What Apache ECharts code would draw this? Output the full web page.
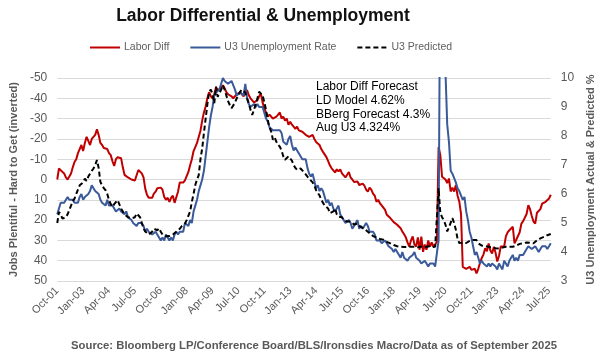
<!DOCTYPE html>
<html><head><meta charset="utf-8">
<script src="https://cdn.jsdelivr.net/npm/echarts@6/dist/echarts.min.js"></script>
<style>html,body{margin:0;padding:0;background:#fff}#c{width:604px;height:355px}</style>
</head><body><div id="c"></div>
<script>
// Monthly, Oct-01 .. Aug-25
const monthNames = ['Jan','Feb','Mar','Apr','May','Jun','Jul','Aug','Sep','Oct','Nov','Dec'];
const startYear = 2001, startMonth = 9, nMonths = 287;
const categories = [];
for (let k = 0; k < nMonths; k++) {
  const m = (startMonth + k) % 12, y = startYear + Math.floor((startMonth + k) / 12);
  categories.push(monthNames[m] + '-' + String(y % 100).padStart(2, '0'));
}
const leftTicks = [-50,-40,-30,-20,-10,0,10,20,30,40,50];
const rightTicks = [3,4,5,6,7,8,9,10];

// Labor Differential (Jobs Plentiful - Hard to Get), left axis inverted
const laborDiff = [
  0, -5.5, -4.5,
  -4.5, -3, -1, 0, 0, -3, -6, -8.6, -10, -13, -15, -17,
  -14, -18, -21, -19, -17, -20, -21, -22, -24.7, -22, -18, -17,
  -15.5, -16, -15, -13, -12, -9, -6.7, -10, -11, -11, -10.5, -6,
  -2.3, -1.5, -1, -0.5, 0, 0, 0.5, 0, -4.7, -4, -3, -1,
  4.5, 7.5, 9, 8.4, 9, 7, 6, 4.3, 3.6, 4, 5, 8.6,
  10, 9, 11, 9, 8, 11.5, 10.9, 6, 1.5, 1, 1.5, 0.4,
  0.5, -3.7, -7, -10, -14, -16, -18, -18.5, -24, -29, -33, -36,
  -40, -43, -41, -40, -42, -45.5, -44, -44, -45, -46.4, -45, -43,
  -42, -41.5, -41, -40, -41, -42, -42, -43, -42, -41, -43, -44,
  -41.5, -40, -39, -38, -38, -39, -41, -42.3, -38, -35, -33, -31,
  -32, -31, -30, -30.5, -31, -32, -33, -30, -31, -29, -30, -27,
  -28.5, -27, -26, -25, -26, -24.2, -24, -23.5, -23, -22, -21.5, -21,
  -21, -22, -20, -18.5, -19, -17, -15, -13.6, -13, -11, -9, -7,
  -5.5, -4.6, -3.5, -5, -4, -5, -3, -3, -1, -0.5, -3.7, -1,
  0, 1.2, 0.5, 1, 2.7, 3.6, 2, 3, 5, 6, 4, 5,
  7, 8, 11, 10, 11.7, 12.7, 13, 15, 17.4, 17.6, 19, 20,
  21, 21.7, 22.3, 23, 24, 25.7, 27, 28.5, 31, 33, 30, 28,
  32, 33, 28.5, 34.6, 28.1, 35.6, 32, 34.6, 30, 33, 31, 33,
  32, 30.7, -16, -12, -1.4, -2, 0, 1.8, -0.5, 5.9, 4, 5.9,
  2.7, 8, 10.9, 17, 43, 43.6, 44, 44, 43, 44.5, 45, 44,
  46.3, 44, 41, 38.7, 37, 33.9, 35.4, 31.5, 35, 36.4, 33.2, 36,
  40.4, 37.7, 33, 32.6, 33, 28, 26, 25, 24.8, 23.3, 31.5, 29.7,
  29.3, 26, 21.7, 20.5, 19.7, 17, 12.6, 14.6, 18, 20.7, 21.7, 16.4,
  15.5, 14.6, 11.9, 12.5, 11, 10.5, 9.4, 7.5
];

// U3 Unemployment Rate (actual), right axis
const u3Rate = [
  5.3, 5.5, 5.7,
  5.7, 5.7, 5.7, 5.9, 5.8, 5.8, 5.8, 5.7, 5.7, 5.7, 5.9, 6.0,
  5.8, 5.9, 5.9, 6.0, 6.1, 6.3, 6.2, 6.1, 6.1, 6.0, 5.8, 5.7,
  5.7, 5.6, 5.8, 5.6, 5.6, 5.6, 5.5, 5.4, 5.4, 5.5, 5.4, 5.4,
  5.3, 5.4, 5.2, 5.2, 5.1, 5.0, 5.0, 4.9, 5.0, 5.0, 5.0, 4.9,
  4.7, 4.8, 4.7, 4.7, 4.6, 4.6, 4.7, 4.7, 4.5, 4.4, 4.5, 4.4,
  4.6, 4.5, 4.4, 4.5, 4.4, 4.6, 4.7, 4.6, 4.7, 4.7, 4.7, 5.0,
  5.0, 4.9, 5.1, 5.0, 5.4, 5.6, 5.8, 6.1, 6.1, 6.5, 6.8, 7.3,
  7.8, 8.3, 8.7, 9.0, 9.4, 9.5, 9.5, 9.6, 9.8, 10.0, 9.9, 9.9,
  9.8, 9.8, 9.9, 9.9, 9.6, 9.4, 9.4, 9.5, 9.5, 9.4, 9.8, 9.3,
  9.1, 9.0, 9.0, 9.1, 9.0, 9.1, 9.0, 9.0, 9.0, 8.8, 8.6, 8.5,
  8.3, 8.3, 8.2, 8.2, 8.2, 8.2, 8.2, 8.1, 7.8, 7.8, 7.7, 7.9,
  8.0, 7.7, 7.5, 7.6, 7.5, 7.5, 7.3, 7.2, 7.2, 7.2, 6.9, 6.7,
  6.6, 6.7, 6.7, 6.2, 6.3, 6.1, 6.2, 6.1, 5.9, 5.7, 5.8, 5.6,
  5.7, 5.5, 5.4, 5.4, 5.6, 5.3, 5.2, 5.1, 5.0, 5.0, 5.1, 5.0,
  4.8, 4.9, 5.0, 5.1, 4.8, 4.9, 4.8, 4.9, 5.0, 4.9, 4.7, 4.7,
  4.7, 4.6, 4.4, 4.4, 4.4, 4.3, 4.3, 4.4, 4.3, 4.2, 4.2, 4.1,
  4.0, 4.1, 4.0, 4.0, 3.8, 4.0, 3.8, 3.8, 3.7, 3.8, 3.8, 3.9,
  4.0, 3.8, 3.8, 3.7, 3.6, 3.6, 3.7, 3.6, 3.5, 3.6, 3.6, 3.6,
  3.5, 3.5, 4.4, 14.8, 13.2, 11.0, 10.2, 8.4, 7.8, 6.8, 6.7, 6.7,
  6.4, 6.2, 6.1, 6.1, 5.8, 5.9, 5.4, 5.1, 4.7, 4.5, 4.2, 3.9,
  4.0, 3.8, 3.6, 3.7, 3.6, 3.6, 3.5, 3.6, 3.5, 3.6, 3.6, 3.5,
  3.4, 3.6, 3.5, 3.4, 3.7, 3.6, 3.5, 3.7, 3.8, 3.9, 3.7, 3.8,
  3.7, 3.9, 3.9, 3.9, 4.0, 4.1, 4.2, 4.2, 4.1, 4.1, 4.2, 4.1,
  4.0, 4.1, 4.2, 4.2, 4.2, 4.1, 4.2, 4.3
];

// U3 Predicted (model), right axis
const u3Predicted = [
  5.0, 5.38, 5.3,
  5.15, 5.16, 5.2, 5.3, 5.45, 5.6, 5.75, 5.84, 6.0, 6.15, 6.3, 6.25,
  6.4, 6.53, 6.45, 6.6, 6.7, 6.8, 6.88, 7.0, 7.17, 6.9, 6.42, 6.3,
  6.2, 6.13, 6.0, 5.79, 5.65, 5.56, 5.65, 5.7, 5.79, 5.79, 5.5, 5.4,
  5.3, 5.25, 5.2, 5.16, 5.16, 5.12, 5.2, 5.33, 5.34, 5.2, 5.0, 4.81,
  4.71, 4.65, 4.6, 4.6, 4.7, 4.8, 4.81, 4.75, 4.82, 4.7, 4.6, 4.58,
  4.54, 4.6, 4.55, 4.53, 4.6, 4.65, 4.7, 4.72, 4.8, 4.88, 4.9, 4.98,
  5.1, 5.16, 5.4, 5.73, 6.0, 6.31, 6.5, 6.65, 7.2, 7.57, 8.1, 8.6,
  9.1, 9.52, 9.6, 9.45, 9.13, 9.7, 9.35, 9.4, 9.6, 9.75, 9.6, 9.4,
  9.2, 9.07, 8.96, 9.0, 9.15, 9.3, 9.4, 9.53, 9.6, 9.65, 9.5, 9.3,
  9.13, 8.9, 8.73, 8.9, 9.1, 9.3, 9.53, 9.58, 9.4, 9.17, 8.9, 8.54,
  8.3, 8.15, 7.87, 7.95, 7.8, 7.7, 7.63, 7.5, 7.3, 7.18, 7.2, 7.3,
  7.25, 7.15, 7.0, 6.9, 6.83, 6.85, 6.88, 6.9, 6.75, 6.7, 6.6, 6.53,
  6.5, 6.4, 6.3, 6.13, 6.1, 5.95, 5.8, 5.74, 5.6, 5.62, 5.5, 5.34,
  5.33, 5.4, 5.5, 5.3, 5.22, 5.16, 5.2, 5.11, 5.1, 5.05, 5.0, 5.05,
  5.0, 4.95, 4.93, 4.98, 4.9, 4.85, 4.83, 4.8, 4.75, 4.7, 4.65, 4.6,
  4.55, 4.54, 4.5, 4.47, 4.45, 4.44, 4.42, 4.4, 4.35, 4.33, 4.3, 4.26,
  4.24, 4.22, 4.2, 4.19, 4.18, 4.18, 4.17, 4.19, 4.18, 4.16, 4.18, 4.2,
  4.18, 4.17, 4.16, 4.18, 4.19, 4.17, 4.16, 4.18, 4.2, 4.18, 4.17, 4.18,
  4.18, 4.2, 6.2, 5.35, 5.2, 5.1, 4.94, 4.71, 4.85, 4.88, 5.17, 5.0,
  4.77, 4.45, 4.31, 4.33, 4.32, 4.31, 4.31, 4.35, 4.38, 4.42, 4.41, 4.42,
  4.41, 4.3, 4.25, 4.22, 4.19, 4.2, 4.18, 4.18, 4.17, 4.16, 4.14, 4.13,
  4.12, 4.12, 4.13, 4.15, 4.19, 4.18, 4.17, 4.18, 4.17, 4.18, 4.2, 4.22,
  4.25, 4.28, 4.25, 4.3, 4.35, 4.33, 4.3, 4.32, 4.29, 4.3, 4.36, 4.4,
  4.42, 4.47, 4.48, 4.52, 4.55, 4.58, 4.6, 4.62
];

const titleText = 'Labor Differential & Unemployment';
const noteLines = ['Labor Diff Forecast', 'LD Model 4.62%', 'BBerg Forecast 4.3%', 'Aug U3 4.324%'];
const sourceText = 'Source: Bloomberg LP/Conference Board/BLS/Ironsdies Macro/Data as of September 2025';

const FONT = '"Liberation Sans", Arial, sans-serif';
const GREY = '#595959';
const chart = echarts.init(document.getElementById('c'), null, {renderer: 'canvas'});
chart.setOption({
  animation: false,
  backgroundColor: '#fff',
  textStyle: {fontFamily: FONT},
  grid: {left: 57, right: 52, top: 78, bottom: 74, containLabel: false},
  legend: {
    left: 89, top: 42, padding: 0, itemWidth: 30, itemHeight: 10, itemGap: 20,
    itemStyle: {opacity: 0},
    textStyle: {fontSize: 10.5, color: '#606060', fontFamily: FONT, padding: [0, 0, 0, -1]},
    data: ['Labor Diff', 'U3 Unemployment Rate', 'U3 Predicted']
  },
  xAxis: {
    type: 'category', data: categories, boundaryGap: false,
    axisLine: {show: false}, axisTick: {show: false},
    axisLabel: {interval: 14, rotate: 45, fontSize: 11, color: GREY, margin: 8, fontFamily: FONT},
    splitLine: {show: false}
  },
  yAxis: [{
    type: 'value', min: leftTicks[0], max: leftTicks[leftTicks.length-1], interval: 10, inverse: true, position: 'left',
    axisLine: {show: false}, axisTick: {show: false},
    axisLabel: {fontSize: 12, color: GREY, margin: 10, fontFamily: FONT},
    splitLine: {lineStyle: {color: '#d9d9d9', width: 1}},
    name: 'Jobs Plentiful - Hard to Get (inverted)', nameLocation: 'middle', nameGap: 38, nameRotate: 90,
    nameTextStyle: {fontSize: 11, fontWeight: 'bold', color: GREY, fontFamily: FONT}
  }, {
    type: 'value', min: rightTicks[0], max: rightTicks[rightTicks.length-1], interval: 1, position: 'right',
    axisLine: {show: false}, axisTick: {show: false},
    axisLabel: {fontSize: 12, color: GREY, margin: 10, fontFamily: FONT},
    splitLine: {show: false},
    name: 'U3 Unemployment Actual & Predicted %', nameLocation: 'middle', nameGap: 32, nameRotate: 90,
    nameTextStyle: {fontSize: 11, fontWeight: 'bold', color: GREY, fontFamily: FONT}
  }],
  series: [{
    name: 'Labor Diff', type: 'line', yAxisIndex: 0, data: laborDiff,
    symbol: 'none', lineStyle: {color: '#C00000', width: 2}, itemStyle: {color: '#C00000'}
  }, {
    name: 'U3 Unemployment Rate', type: 'line', yAxisIndex: 1, data: u3Rate,
    symbol: 'none', lineStyle: {color: '#3A5A9A', width: 2}, itemStyle: {color: '#3A5A9A'}
  }, {
    name: 'U3 Predicted', type: 'line', yAxisIndex: 1, data: u3Predicted,
    symbol: 'none', lineStyle: {color: '#000', width: 2, type: [5, 3]}, itemStyle: {color: '#000'}
  }],
  graphic: [{
    type: 'text', x: 263, y: 7, z: 10,
    style: {text: titleText, font: 'bold 17.5px ' + FONT, fill: '#111', align: 'center', verticalAlign: 'top'}
  }, {
    type: 'text', x: 316, y: 80, z: 1,
    style: {text: noteLines.join('\n'), font: '12px ' + FONT, fill: '#000', lineHeight: 13.7,
            backgroundColor: '#fff', verticalAlign: 'top'}
  }, {
    type: 'text', x: 314, y: 340, z: 10,
    style: {text: sourceText, font: 'bold 11.3px ' + FONT, fill: GREY, align: 'center', verticalAlign: 'top'}
  }]
});
</script></body></html>
